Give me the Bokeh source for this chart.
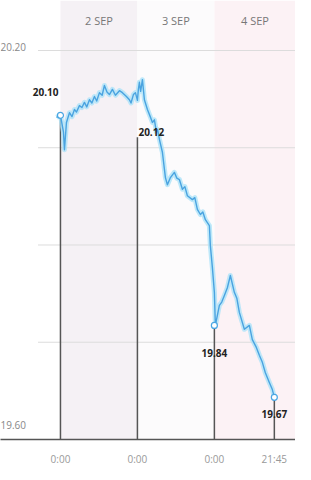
from bokeh.plotting import figure
from bokeh.models import Range1d, FixedTicker, Label, ColumnDataSource
from bokeh.embed import file_html
from bokeh.resources import INLINE

# ---- data ----
hours = [-1.25, 0, 0.94, 1.25, 1.87, 2.81, 3.6, 4.36, 5.0, 5.92, 6.7, 7.48, 8.2, 9.04, 9.8,
         10.60, 11.3, 12.16, 13.0, 13.71, 14.5, 15.27, 16.2, 17.14, 18.39, 19.32, 20.57,
         21.51, 22.0, 22.75, 23.38, 24.0, 24.3, 24.62, 25.0, 25.56, 26.18, 27.12, 28.0,
         28.68, 29.3, 29.92, 30.3, 30.86, 31.79, 32.73, 33.35, 34.29, 35.53, 36.3, 37.09,
         38.03, 38.8, 39.58, 41.14, 41.9, 42.70, 43.64, 44.4, 45.19, 46.44, 46.75, 47.38,
         48.0, 48.31, 49.56, 50.3, 51.12, 52.05, 52.99, 54.23, 55.0, 55.79, 57.35, 58.91,
         59.84, 61.09, 62.03, 62.96, 63.90, 65.14, 66.08, 66.70]
price = [20.097, 20.100, 20.074, 20.047, 20.089, 20.104, 20.098, 20.109, 20.105, 20.115,
         20.112, 20.120, 20.113, 20.124, 20.119, 20.129, 20.122, 20.135, 20.131, 20.146,
         20.136, 20.132, 20.140, 20.131, 20.138, 20.135, 20.129, 20.124, 20.119, 20.132,
         20.135, 20.123, 20.140, 20.151, 20.137, 20.155, 20.124, 20.109, 20.098, 20.089,
         20.093, 20.074, 20.078, 20.063, 20.043, 20.004, 19.993, 20.004, 20.012, 20.003,
         20.001, 19.986, 19.990, 19.976, 19.970, 19.973, 19.955, 19.947, 19.951, 19.939,
         19.930, 19.899, 19.865, 19.827, 19.776, 19.807, 19.812, 19.822, 19.834, 19.853,
         19.827, 19.818, 19.796, 19.770, 19.776, 19.754, 19.742, 19.730, 19.719, 19.703,
         19.688, 19.677, 19.665]

day_labels = ["2 SEP", "3 SEP", "4 SEP"]
day_starts = [0, 24, 48]
day_colors = ["#f5f1f5", "#fcfbfc", "#fcf2f5"]

grid_values = [19.60, 19.75, 19.90, 20.05, 20.20]
y_label_values = [20.20, 19.60]
y_label_texts = ["20.20", "19.60"]

x_tick_pos = [0, 24, 48, 66.70]
x_tick_text = ["0:00", "0:00", "0:00", "21:45"]

ann_x = [0, 24, 48, 66.70]
ann_top = [20.100, 20.066, 19.776, 19.665]
ann_text = ["20.10", "20.12", "19.84", "19.67"]

X0, X1 = -18.7, 73.3
Y0, Y1 = 19.60, 20.2771

p = figure(frame_width=295, frame_height=439, output_backend="svg", toolbar_location=None,
           x_range=Range1d(X0, X1), y_range=Range1d(Y0, Y1),
           y_axis_location=None, min_border=0, outline_line_color=None,
           background_fill_color="white", border_fill_color="white")
p.xgrid.visible = False
p.ygrid.visible = False

# day bands
ends = day_starts[1:] + [X1]
p.quad(left=day_starts, right=ends, bottom=Y0, top=Y1, fill_color=day_colors, line_color=None)

# gridlines
p.segment(x0=[-7.0] * len(grid_values), x1=[X1] * len(grid_values), y0=grid_values, y1=grid_values,
          line_color="#dcdcdc", line_width=1)

# drop lines
p.segment(x0=ann_x, x1=ann_x, y0=ann_top, y1=[Y0] * len(ann_x), line_color="#555555", line_width=1.5)

# price line (glow + line)
src = ColumnDataSource(dict(x=hours, y=price))
p.line("x", "y", source=src, line_color="#a8e2f8", line_width=5, line_alpha=0.75, line_join="round")
p.line("x", "y", source=src, line_color="#4aa3e0", line_width=1.4, line_join="round")

# markers
idx = [0, 2, 3]
p.scatter([ann_x[i] for i in idx], [ann_top[i] for i in idx], size=6, fill_color="white",
          line_color="#4aa6e3", line_width=1.2)

# header day labels
for lab, s, e in zip(day_labels, day_starts, ends):
    p.add_layout(Label(x=(s + e) / 2, y=Y1, y_offset=-20, text=lab, text_align="center",
                       text_baseline="middle", text_font="Open Sans", text_font_size="11px",
                       text_color="#777777"))

# y labels
y_offsets = [3, 15]
for v, t, off in zip(y_label_values, y_label_texts, y_offsets):
    p.add_layout(Label(x=X0, y=v, x_offset=0, y_offset=off, text=t, text_align="left",
                       text_baseline="middle", text_font="Open Sans", text_font_size="10px",
                       text_color="#888888"))

# value annotations
styles = [(-2, 23, "right"), (1, 5, "left"), (0, -28, "center"), (0, -17, "center")]
for x, y, t, (dx, dy, al) in zip(ann_x, ann_top, ann_text, styles):
    p.add_layout(Label(x=x, y=y, x_offset=dx, y_offset=dy, text=t, text_align=al,
                       text_baseline="middle", text_font="Open Sans", text_font_size="10px",
                       text_font_style="bold", text_color="#222222"))

# x axis
ax = p.xaxis[0]
ax.ticker = FixedTicker(ticks=x_tick_pos)
ax.major_label_overrides = {k: v for k, v in zip(x_tick_pos, x_tick_text)}
ax.axis_line_color = "#555555"
ax.axis_line_width = 1.5
ax.major_tick_line_color = None
ax.minor_tick_line_color = None
ax.major_tick_out = 0
ax.major_tick_in = 0
ax.major_label_standoff = 12
ax.major_label_text_font = "Open Sans"
ax.major_label_text_font_size = "10px"
ax.major_label_text_color = "#999999"

open("out.html", "w").write(file_html(p, INLINE))
